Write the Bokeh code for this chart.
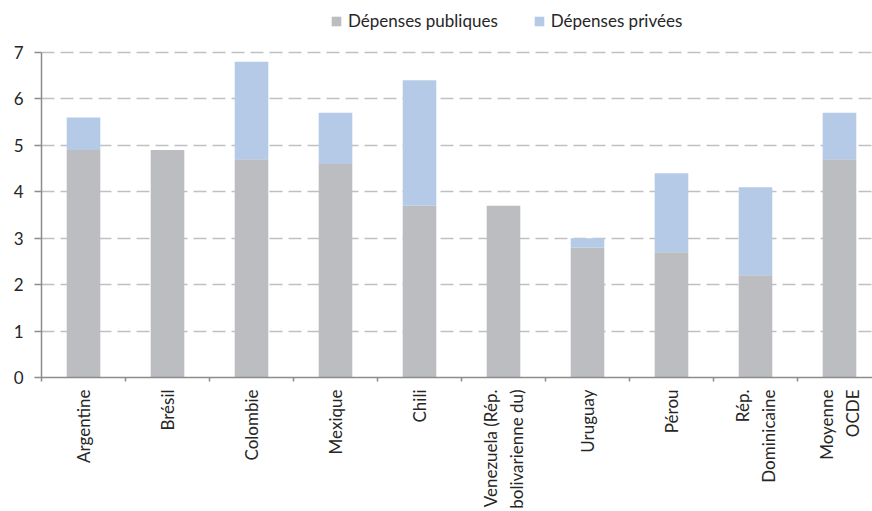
import math

from bokeh.embed import file_html
from bokeh.models import FixedTicker, Legend, LegendItem, Range1d, ColumnDataSource
from bokeh.plotting import figure
from bokeh.resources import INLINE

# Spending per country, in % of GDP
categories = [
    "Argentine", "Brésil", "Colombie", "Mexique", "Chili",
    "Venezuela (Rép.\nbolivarienne du)", "Uruguay", "Pérou",
    "Rép.\nDominicaine", "Moyenne\nOCDE",
]
depenses_publiques = [4.9, 4.9, 4.7, 4.6, 3.7, 3.7, 2.8, 2.7, 2.2, 4.7]
depenses_privees = [0.7, 0.0, 2.1, 1.1, 2.7, 0.0, 0.2, 1.7, 1.9, 1.0]
y_ticks = [0, 1, 2, 3, 4, 5, 6, 7]

FONT = "Lato"
TEXT = "#262626"
GRAY = "#bcbdc0"
BLUE = "#b4cae6"
AXIS = "#8c8c8c"

n = len(categories)
x_center = [i + 0.5 for i in range(n)]
x_bounds = list(range(n + 1))

source = ColumnDataSource(dict(
    x=x_center,
    pub=depenses_publiques,
    priv=depenses_privees,
))

# the frame reaches the top of the canvas so the legend can sit above the
# 7 gridline; the y axis line itself stops at 7
p = figure(
    width=872, height=511,
    x_range=Range1d(0, 9.893), y_range=Range1d(0, 8.12),
    output_backend="svg", toolbar_location=None,
    min_border_left=41, min_border_right=0,
    min_border_top=0, min_border_bottom=134,
)
p.outline_line_color = None
p.background_fill_color = "white"
p.border_fill_color = "white"

bars = p.vbar_stack(
    ["pub", "priv"], x="x", width=0.4, source=source,
    color=[GRAY, BLUE], line_color=None,
)

# grid
p.xgrid.visible = False
p.ygrid.ticker = FixedTicker(ticks=y_ticks)
p.ygrid.grid_line_color = "#c0c0c0"
p.ygrid.grid_line_width = 1.6
p.ygrid.grid_line_dash = "13 6"

# y axis
yax = p.yaxis[0]
yax.ticker = FixedTicker(ticks=y_ticks)
yax.bounds = (0, 7)
yax.axis_line_color = AXIS
yax.axis_line_width = 1.5
yax.major_tick_line_color = AXIS
yax.major_tick_line_width = 1.5
yax.major_tick_out = 7
yax.major_tick_in = 0
yax.minor_tick_line_color = None
yax.major_label_standoff = 11
yax.major_label_text_font = FONT
yax.major_label_text_font_size = "17px"
yax.major_label_text_color = TEXT

# x axis: names at the category centres, ticks at the boundaries
xax = p.xaxis[0]
xax.ticker = FixedTicker(ticks=x_center, minor_ticks=x_bounds)
xax.major_label_overrides = {c: lab for c, lab in zip(x_center, categories)}
xax.major_label_orientation = math.pi / 2
xax.axis_line_color = AXIS
xax.axis_line_width = 1.5
xax.major_tick_line_color = None
xax.major_tick_out = 4
xax.major_tick_in = 0
xax.minor_tick_line_color = AXIS
xax.minor_tick_line_width = 1.5
xax.minor_tick_out = 4
xax.minor_tick_in = 0
xax.major_label_standoff = 8
xax.major_label_text_font = FONT
xax.major_label_text_font_size = "17px"
xax.major_label_text_color = TEXT

legend = Legend(
    items=[
        LegendItem(label="Dépenses publiques", renderers=[bars[0]]),
        LegendItem(label="Dépenses privées", renderers=[bars[1]]),
    ],
    orientation="horizontal",
    location=(289, 346),
    padding=0, margin=0, spacing=35,
    glyph_width=12, glyph_height=12, label_standoff=6, label_height=18,
    label_text_font=FONT, label_text_font_size="17px",
    label_text_color=TEXT,
    border_line_color=None, background_fill_alpha=0,
)
p.add_layout(legend, "center")

open("out.html", "w").write(file_html(p, INLINE))
